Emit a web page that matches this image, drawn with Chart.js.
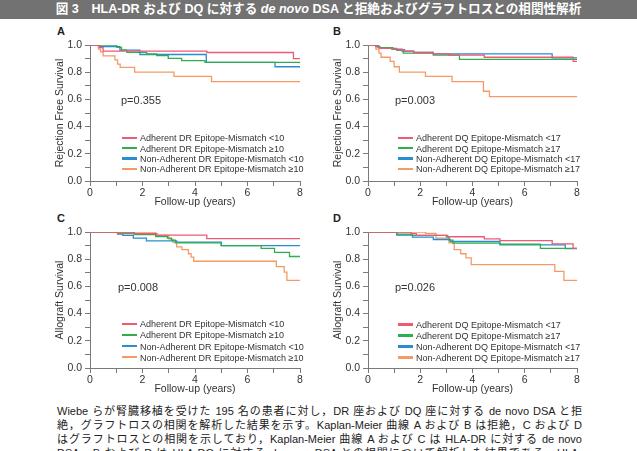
<!DOCTYPE html>
<html><head><meta charset="utf-8">
<script src="https://cdn.jsdelivr.net/npm/chart.js@4"></script>
<style>
body{margin:0;width:637px;height:451px;overflow:hidden;background:#fff;position:relative;font-family:"Liberation Sans","Noto Sans CJK JP",sans-serif;}
.hdr{position:absolute;left:0;top:0;width:637px;height:19px;background:#727272;color:#fff;font-weight:bold;font-size:12.6px;line-height:19px;text-align:center;white-space:nowrap}
canvas{position:absolute}
.lbl{position:absolute;font-weight:bold;font-size:11px;line-height:13px;color:#222}
.p{position:absolute;font-size:11px;line-height:13px;color:#333}
.lg{position:absolute;font-size:9px;line-height:10px;color:#333;white-space:nowrap}
.lg i{display:inline-block;width:15px;height:2.5px;vertical-align:middle;margin-right:3px;position:relative;top:-1px}
.cap{position:absolute;left:57px;width:525px;font-size:11px;line-height:14px;color:#222;text-align:justify;text-align-last:justify;white-space:nowrap}
</style></head><body>
<div class="hdr">図 3　HLA-DR および DQ に対する <i>de novo</i> DSA と拒絶およびグラフトロスとの相関性解析</div>
<div class="lbl" style="left:57px;top:25px">A</div>
<div class="lbl" style="left:333px;top:25px">B</div>
<div class="lbl" style="left:57px;top:212px">C</div>
<div class="lbl" style="left:333px;top:212px">D</div>
<canvas id="cA" width="285" height="190" style="left:40px;top:25px"></canvas>
<canvas id="cB" width="285" height="190" style="left:318px;top:25px"></canvas>
<canvas id="cC" width="285" height="190" style="left:40px;top:212px"></canvas>
<canvas id="cD" width="285" height="190" style="left:318px;top:212px"></canvas>
<div id="over"></div>
<div class="cap" style="top:404px">Wiebe らが腎臓移植を受けた 195 名の患者に対し，DR 座および DQ 座に対する de novo DSA と拒</div>
<div class="cap" style="top:418px">絶，グラフトロスの相関を解析した結果を示す。Kaplan-Meier 曲線 A および B は拒絶，C および D</div>
<div class="cap" style="top:432px">はグラフトロスとの相関を示しており，Kaplan-Meier 曲線 A および C は HLA-DR に対する de novo</div>
<div class="cap" style="top:446px">DSA，B および D は HLA-DQ に対する de novo DSA との相関について解析した結果である。HLA-</div>
<script>
// ---- data: [time (years), survival] at each step ----
const rejDR_adhLow  = [[0,1],[0.35,0.98],[0.5,0.955],[4.45,0.945],[7.75,0.90],[8,0.90]];
const rejDR_adhHigh = [[0,1],[1.02,0.983],[1.2,0.963],[1.4,0.946],[2.16,0.934],[2.54,0.922],[2.98,0.902],[3.49,0.885],[4.38,0.872],[8,0.866]];
const rejDR_nonLow  = [[0,1],[0.38,0.988],[1.14,0.963],[1.9,0.93],[4.43,0.872],[7.05,0.84],[8,0.84]];
const rejDR_nonHigh = [[0,1],[0.32,0.97],[0.4,0.95],[0.5,0.92],[0.95,0.89],[1.05,0.86],[1.15,0.835],[1.7,0.80],[3.2,0.77],[4.63,0.73],[8,0.73]];

const rejDQ_adhLow  = [[0,1],[0.35,0.985],[0.45,0.975],[1.1,0.965],[1.4,0.955],[1.75,0.945],[2.5,0.935],[3.1,0.925],[4.45,0.91],[7.85,0.88],[8,0.88]];
const rejDQ_adhHigh = [[0,1],[0.4,0.98],[0.9,0.97],[1.1,0.96],[1.35,0.94],[2.5,0.925],[3.5,0.895],[8,0.895]];
const rejDQ_nonLow  = [[0,1],[0.3,0.99],[0.45,0.98],[0.95,0.97],[1.3,0.955],[1.75,0.945],[2.5,0.935],[7.05,0.905],[8,0.905]];
const rejDQ_nonHigh = [[0,1],[0.3,0.97],[0.42,0.94],[0.5,0.91],[0.85,0.88],[1.0,0.84],[1.2,0.80],[2.2,0.77],[3.22,0.73],[4.42,0.66],[4.65,0.62],[8,0.62]];

const grDR_adhLow  = [[0,1],[1.05,0.988],[2.55,0.977],[4.45,0.952],[8,0.952]];
const grDR_adhHigh = [[0,1],[1.68,0.98],[2.5,0.967],[2.95,0.955],[3.1,0.94],[3.25,0.92],[5.0,0.90],[6.52,0.88],[7.03,0.85],[7.6,0.82],[8,0.82]];
const grDR_nonLow  = [[0,1],[1.05,0.985],[1.25,0.975],[1.65,0.955],[2.15,0.935],[3.3,0.925],[5.0,0.90],[8,0.90]];
const grDR_nonHigh = [[0,1],[2.5,0.975],[3.0,0.95],[3.15,0.925],[3.3,0.89],[3.5,0.87],[3.75,0.84],[3.85,0.815],[3.95,0.785],[7.1,0.745],[7.4,0.705],[7.5,0.645],[8,0.645]];

const grDQ_adhLow  = [[0,1],[1.65,0.988],[1.85,0.975],[3.05,0.965],[4.45,0.95],[5.05,0.937],[7.05,0.912],[7.85,0.88],[8,0.88]];
const grDQ_adhHigh = [[0,1],[1.1,0.985],[1.7,0.975],[3.0,0.965],[3.1,0.94],[3.25,0.918],[5.05,0.91],[6.6,0.88],[8,0.88]];
const grDQ_nonLow  = [[0,1],[1.1,0.978],[1.7,0.963],[2.5,0.945],[3.15,0.93],[5.05,0.905],[7.55,0.878],[8,0.878]];
const grDQ_nonHigh = [[0,1],[2.2,0.99],[2.6,0.955],[3.1,0.92],[3.3,0.87],[3.55,0.84],[3.75,0.81],[3.95,0.76],[7.15,0.71],[7.5,0.645],[8,0.645]];

const legendDR = ['Adherent DR Epitope-Mismatch <10','Adherent DR Epitope-Mismatch ≥10','Non-Adherent DR Epitope-Mismatch <10','Non-Adherent DR Epitope-Mismatch ≥10'];
const legendDQ = ['Adherent DQ Epitope-Mismatch <17','Adherent DQ Epitope-Mismatch ≥17','Non-Adherent DQ Epitope-Mismatch <17','Non-Adherent DQ Epitope-Mismatch ≥17'];
const pValues = ['p=0.355','p=0.003','p=0.008','p=0.026'];
const yTitles = ['Rejection Free Survival','Rejection Free Survival','Allograft Survival','Allograft Survival'];
const xTitle = 'Follow-up (years)';
const colors = ['#ee5a76','#2fae4e','#2a8dd0','#f59a66'];

const panels = [
  {id:'cA', series:[rejDR_adhLow,rejDR_adhHigh,rejDR_nonLow,rejDR_nonHigh], legend:legendDR, p:pValues[0], yt:yTitles[0], right:25, lx:122, ly:138.3, lsp:10.3, px:121, py:100},
  {id:'cB', series:[rejDQ_adhLow,rejDQ_adhHigh,rejDQ_nonLow,rejDQ_nonHigh], legend:legendDQ, p:pValues[1], yt:yTitles[1], right:26, lx:398, ly:138.3, lsp:10.3, px:395, py:100},
  {id:'cC', series:[grDR_adhLow,grDR_adhHigh,grDR_nonLow,grDR_nonHigh], legend:legendDR, p:pValues[2], yt:yTitles[2], right:25, lx:122, ly:324.3, lsp:11.1, px:118, py:287},
  {id:'cD', series:[grDQ_adhLow,grDQ_adhHigh,grDQ_nonLow,grDQ_nonHigh], legend:legendDQ, p:pValues[3], yt:yTitles[3], right:26, lx:398, ly:324.8, lsp:11.1, px:395, py:287}
];

const axisCol = '#7a7a7a', txtCol = '#333';
const over = document.getElementById('over');

panels.forEach(pn => {
  new Chart(document.getElementById(pn.id), {
    type:'line',
    data:{datasets: pn.series.map((s,i)=>({
      label: pn.legend[i],
      data: s.map(([x,y])=>({x,y})),
      borderColor: colors[i], borderWidth:1.3, pointRadius:0, stepped:'before', fill:false, tension:0
    }))},
    options:{
      responsive:false, animation:false, devicePixelRatio:1,
      layout:{padding:{top:20,right:pn.right,left:0,bottom:0}},
      plugins:{legend:{display:false}, tooltip:{enabled:false}},
      scales:{
        x:{type:'linear', min:0, max:8,
           afterFit(s){ s.height = 34; },
           ticks:{stepSize:1, autoSkip:false, maxRotation:0, padding:1, color:txtCol, font:{size:10.5, family:'Liberation Sans'},
                  callback:v => (Math.round(v)%2===0 ? String(Math.round(v)) : '')},
           grid:{drawOnChartArea:false, tickLength:5, color:axisCol},
           border:{color:axisCol, width:1},
           title:{display:true, text:xTitle, color:txtCol, font:{size:10.5, family:'Liberation Sans'}, padding:{top:0,bottom:7}}},
        y:{type:'linear', min:0, max:1,
           afterFit(s){ s.width = 50; },
           ticks:{stepSize:0.1, autoSkip:false, padding:3, color:txtCol, font:{size:10.5, family:'Liberation Sans'},
                  callback:v => { const k=Math.round(v*10); return k%2===0 ? (k/10).toFixed(1) : ''; }},
           grid:{drawOnChartArea:false, tickLength:5, color:axisCol},
           border:{color:axisCol, width:1},
           title:{display:true, text:pn.yt, color:txtCol, font:{size:10.5, family:'Liberation Sans'}, padding:{top:14,bottom:0}}}
      }
    }
  });
  // p-value text
  const p = document.createElement('div'); p.className='p'; p.textContent=pn.p;
  p.style.left=pn.px+'px'; p.style.top=(pn.py-6.5)+'px'; over.appendChild(p);
  // legend
  pn.legend.forEach((t,i)=>{
    const d=document.createElement('div'); d.className='lg';
    d.style.left=pn.lx+'px'; d.style.top=(pn.ly+i*pn.lsp-5)+'px';
    const m=document.createElement('i'); m.style.background=colors[i];
    d.appendChild(m); d.appendChild(document.createTextNode(t)); over.appendChild(d);
  });
});
</script>
</body></html>
